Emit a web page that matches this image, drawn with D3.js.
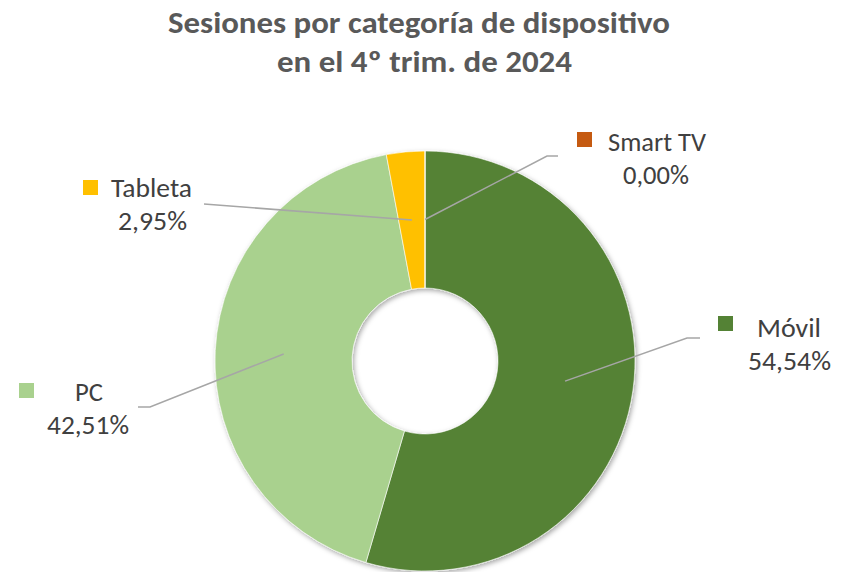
<!DOCTYPE html>
<html>
<head>
<meta charset="utf-8">
<script src="https://cdn.jsdelivr.net/npm/d3@7"></script>
<style>
  html, body { margin: 0; padding: 0; background: #fff; }
  svg { display: block; }
</style>
</head>
<body>
<svg id="chart" width="844" height="572"></svg>
<script>
// ---- data ----
const categories = ["Móvil", "PC", "Tableta", "Smart TV"];
const values = [54.54, 42.51, 2.95, 0.00];
const valueLabels = ["54,54%", "42,51%", "2,95%", "0,00%"];
const colors = ["#548235", "#A9D18E", "#FFC000", "#C55A11"];
const titleLines = ["Sesiones por categoría de dispositivo", "en el 4º trim. de 2024"];

// ---- layout (positions only) ----
const W = 844, H = 572;
const cx = 425, cy = 361, rOuter = 210, rInner = 73;
const labelLayout = {
  "Móvil":    { sq: [718, 316], name: [789, 337, 64], val: [789.5, 370, 83], elbow: [687, 338], end: [700, 338] },
  "PC":       { sq: [19, 383],  name: [89, 401, 28],  val: [88, 434, 82],    elbow: [150, 407], end: [138, 407] },
  "Tableta":  { sq: [83, 180],  name: [151.5, 197, 81], val: [152.5, 230, 69], elbow: [204, 204], end: null },
  "Smart TV": { sq: [577, 132], name: [657, 151, 98], val: [656, 184, 66],   elbow: [547, 156], end: [558, 156] }
};

const svg = d3.select("#chart");
const defs = svg.append("defs");
const f = defs.append("filter").attr("id", "shadow")
  .attr("x", "-20%").attr("y", "-20%").attr("width", "140%").attr("height", "140%");
f.append("feDropShadow").attr("dx", 1.5).attr("dy", 2).attr("stdDeviation", 2.5)
  .attr("flood-color", "#000").attr("flood-opacity", 0.35);

// title
const fontFamily = "Carlito, 'Open Sans', sans-serif";
const titleSpec = [[419, 33, 502], [424.5, 72, 295]];
svg.selectAll("text.title").data(titleLines).join("text")
  .attr("class", "title")
  .attr("x", (d, i) => titleSpec[i][0])
  .attr("y", (d, i) => titleSpec[i][1])
  .attr("text-anchor", "middle")
  .attr("textLength", (d, i) => titleSpec[i][2])
  .attr("lengthAdjust", "spacingAndGlyphs")
  .style("font-family", fontFamily)
  .style("font-weight", "bold")
  .style("font-size", "31px")
  .style("fill", "#595959")
  .text(d => d);

// donut
const data = categories.map((c, i) => ({ name: c, value: values[i], label: valueLabels[i], color: colors[i] }));
const pie = d3.pie().value(d => d.value).sort(null);
const arc = d3.arc().innerRadius(rInner).outerRadius(rOuter);
const arcs = pie(data);

const g = svg.append("g").attr("transform", `translate(${cx},${cy})`);
g.append("g").attr("filter", "url(#shadow)")
  .selectAll("path").data(arcs).join("path")
  .attr("d", arc)
  .attr("fill", d => d.data.color)
  .attr("stroke", "#fff")
  .attr("stroke-width", 0.6);

// leader lines (start at arc centroid)
const lines = svg.append("g");
arcs.forEach(a => {
  const L = labelLayout[a.data.name];
  const c = arc.centroid(a);
  const pts = [[cx + c[0], cy + c[1]], L.elbow];
  if (L.end) pts.push(L.end);
  lines.append("path")
    .attr("d", d3.line()(pts))
    .attr("fill", "none")
    .attr("stroke", "#A6A6A6")
    .attr("stroke-width", 1.5);
});

// labels
const lab = svg.append("g");
arcs.forEach(a => {
  const L = labelLayout[a.data.name];
  lab.append("rect")
    .attr("x", L.sq[0]).attr("y", L.sq[1])
    .attr("width", 15).attr("height", 15)
    .attr("fill", a.data.color);
  lab.append("text")
    .attr("x", L.name[0]).attr("y", L.name[1])
    .attr("text-anchor", "middle")
    .attr("textLength", L.name[2])
    .attr("lengthAdjust", "spacingAndGlyphs")
    .style("font-family", fontFamily)
    .style("font-size", "27px")
    .style("fill", "#404040")
    .text(a.data.name);
  lab.append("text")
    .attr("x", L.val[0]).attr("y", L.val[1])
    .attr("text-anchor", "middle")
    .attr("textLength", L.val[2])
    .attr("lengthAdjust", "spacingAndGlyphs")
    .style("font-family", fontFamily)
    .style("font-size", "27px")
    .style("fill", "#404040")
    .text(a.data.label);
});
</script>
</body>
</html>
